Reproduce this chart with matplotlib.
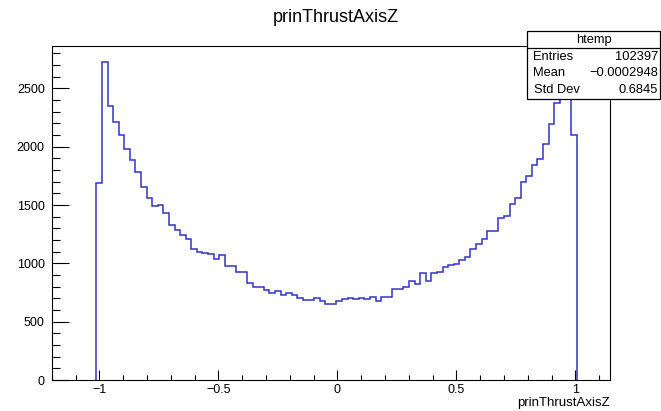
import matplotlib.pyplot as plt
from matplotlib.patches import Rectangle
from matplotlib.lines import Line2D
from matplotlib.ticker import MultipleLocator
import numpy as np

plt.rcParams['font.family'] = ['Liberation Sans', 'DejaVu Sans']

# histogram definition (htemp, 100 bins)
nbins = 100
xlow, xup = -1.2, 1.145
first_bin = 8
counts = [
    1686, 2723, 2348, 2214, 2100, 1980, 1885, 1785, 1657, 1557,
    1491, 1502, 1428, 1330, 1285, 1243, 1206, 1120, 1094, 1085,
    1080, 1040, 1074, 977, 977, 926, 926, 835, 800, 795,
    770, 745, 765, 730, 748, 728, 700, 686, 686, 703,
    680, 650, 650, 677, 691, 703, 691, 703, 695, 714,
    680, 709, 714, 780, 780, 794, 845, 825, 915, 850,
    914, 928, 971, 983, 991, 1028, 1051, 1120, 1163, 1206,
    1280, 1280, 1391, 1408, 1508, 1557, 1694, 1748, 1842, 1894,
    2020, 2194, 2371, 2480, 2700, 2100]

stat_names = ['Entries', 'Mean', 'Std Dev']
stat_values = ['102397', '\u22120.0002948', '0.6845']

edges = np.linspace(xlow, xup, nbins + 1)
used = edges[first_bin:first_bin + len(counts) + 1]

W, H = 661, 411
fig = plt.figure(figsize=(W / 100, H / 100), dpi=100)

def fx(px):
    return px / W

def fy(py):
    return 1 - py / H

ax = fig.add_axes([fx(51.7), fy(380), fx(610) - fx(51.7), fy(46.5) - fy(380)])
ax.stairs(counts, used, baseline=0, color='#3434c2', lw=1.1)

ax.set_xlim(xlow, xup)
ax.set_ylim(0, 1.05 * max(counts))

ax.xaxis.set_major_locator(MultipleLocator(0.5))
ax.xaxis.set_minor_locator(MultipleLocator(0.1))
ax.yaxis.set_major_locator(MultipleLocator(500))
ax.yaxis.set_minor_locator(MultipleLocator(100))
ax.set_xticks([-1, -0.5, 0, 0.5, 1])
ax.set_xticklabels(['\u22121', '\u22120.5', '0', '0.5', '1'])

ax.tick_params(axis='x', which='major', direction='in', length=7.2, width=0.8, labelsize=9, pad=3)
ax.tick_params(axis='x', which='minor', direction='in', length=3.6, width=0.8)
ax.tick_params(axis='y', which='major', direction='in', length=12.2, width=0.8, labelsize=9, pad=5)
ax.tick_params(axis='y', which='minor', direction='in', length=6.1, width=0.8)
for s in ax.spines.values():
    s.set_linewidth(0.8)

fig.text(fx(336), fy(18), 'prinThrustAxisZ', ha='center', va='center', fontsize=13)
fig.text(fx(610), fy(403), 'prinThrustAxisZ', ha='right', va='center', fontsize=9.5)

# stats box
fig.add_artist(Rectangle((fx(527.3), fy(99)), fx(659.5) - fx(527.3), fy(30.7) - fy(99),
                         transform=fig.transFigure, facecolor='white', edgecolor='black', lw=0.9))
fig.add_artist(Line2D([fx(527.3), fx(659.5)], [fy(47.7), fy(47.7)],
                      transform=fig.transFigure, color='black', lw=0.9))
fig.text(fx(594), fy(39.5), 'htemp', ha='center', va='center', fontsize=9.3)
for i, (name, val) in enumerate(zip(stat_names, stat_values)):
    yy = fy(56.7 + 16.6 * i)
    fig.text(fx(533.5), yy, name, ha='left', va='center', fontsize=9.3)
    fig.text(fx(658), yy, val, ha='right', va='center', fontsize=9.3)

plt.savefig('out.png', dpi=100)
